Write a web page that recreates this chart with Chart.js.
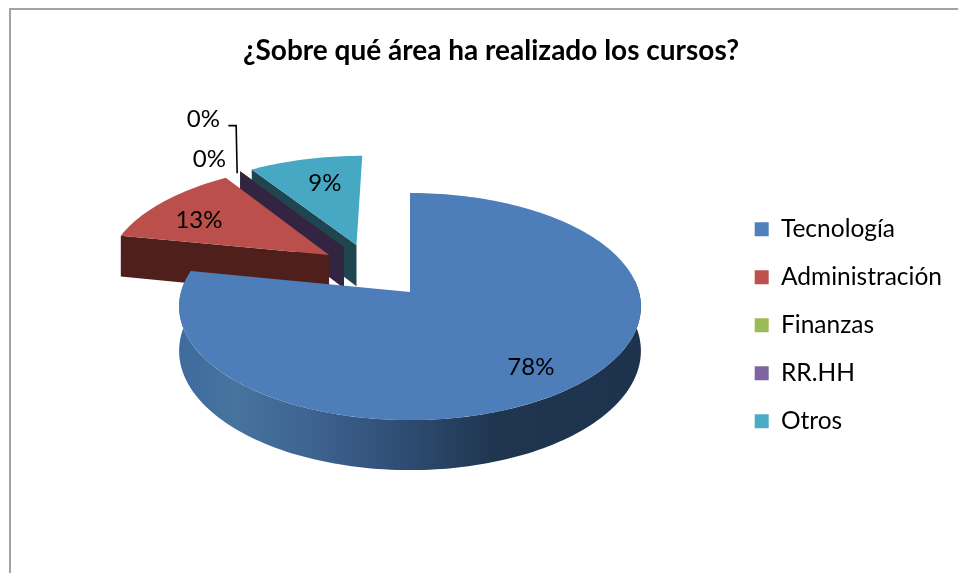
<!DOCTYPE html>
<html>
<head>
<meta charset="utf-8">
<title>Cursos</title>
<script src="https://cdn.jsdelivr.net/npm/chart.js@4"></script>
<style>
  html, body { margin: 0; padding: 0; background: #fff; }
  #wrap { position: relative; width: 958px; height: 573px; overflow: hidden; }
  #marco { position: absolute; left: 9px; top: 8px; right: -4px; bottom: -4px; border: 2px solid #a3a3a3; }
  #grafico { position: absolute; left: 0; top: 0; }
</style>
</head>
<body>
<div id="wrap">
  <div id="marco"></div>
  <canvas id="grafico" width="958" height="573"></canvas>
</div>
<script>
const titulo = '¿Sobre qué área ha realizado los cursos?';
const categorias = ['Tecnología', 'Administración', 'Finanzas', 'RR.HH', 'Otros'];
const valores = [78.1, 12.5, 0, 0, 9.4];
const etiquetas = ['78%', '13%', '0%', '0%', '9%'];

const colores = ['#4f81bd', '#c0504d', '#9bbb59', '#8064a2', '#4bacc6'];
const caras = ['#4d7eb9', '#bb4f4c', '#9bbb59', '#8064a2', '#47a8c4'];
const paredes = ['#2e4d74', '#4f1f1c', '#4c5c2b', '#332541', '#1f4650'];

// Desplazamiento de cada porción sobre el plano de la torta
const explosion = [[0, 0], [-0.369, -0.346], [-0.304, -0.425], [-0.304, -0.425], [-0.247, -0.445]];
const ajusteEtiqueta = [[-2, 2], [1, 7], [-52, -27], [-58, -67], [9, 7]];
const ordenDibujo = [4, 2, 3, 1, 0];

// Perspectiva
const CX = 410, CY = 292, RX = 229, RY = 111.7, K = 0.128, ALTO = 43.6;

function proyectar(u, v) {
  const w = 1 - K * v;
  return { x: CX + RX * u / w, y: CY + RY * v / w, d: ALTO / w };
}

function puntosArco(ini, fin, off) {
  const n = Math.max(1, Math.ceil((fin - ini) * 40));
  const pts = [];
  for (let i = 0; i <= n; i++) {
    const a = ini + (fin - ini) * i / n;
    pts.push(proyectar(Math.cos(a) + off[0], Math.sin(a) + off[1]));
  }
  return pts;
}

function pared(ctx, pts, fill) {
  ctx.beginPath();
  pts.forEach((p, i) => i ? ctx.lineTo(p.x, p.y) : ctx.moveTo(p.x, p.y));
  for (let i = pts.length - 1; i >= 0; i--) ctx.lineTo(pts[i].x, pts[i].y + pts[i].d);
  ctx.closePath();
  ctx.fillStyle = fill;
  ctx.fill();
}

const torta3d = {
  id: 'torta3d',
  beforeDatasetsDraw(chart) {
    const ctx = chart.ctx;
    const arcos = chart.getDatasetMeta(0).data;
    ctx.save();
    ordenDibujo.forEach(i => {
      const { startAngle, endAngle } = arcos[i];
      const off = explosion[i];
      const tip = proyectar(off[0], off[1]);
      const arco = puntosArco(startAngle, endAngle, off);

      let colorPared = paredes[i];
      if (i === 0) {
        colorPared = ctx.createLinearGradient(180, 0, 642, 0);
        colorPared.addColorStop(0, '#3f6b9e');
        colorPared.addColorStop(0.12, '#47739f');
        colorPared.addColorStop(0.27, '#3f6592');
        colorPared.addColorStop(0.48, '#2e4d74');
        colorPared.addColorStop(0.68, '#20354f');
        colorPared.addColorStop(1, '#1d334d');
      }
      // solo las paredes que miran al frente
      pared(ctx, [tip, arco[0]], paredes[i]);
      const desde = Math.max(startAngle, -0.1);
      const hasta = Math.min(endAngle, Math.PI + 0.1);
      if (hasta > desde) pared(ctx, puntosArco(desde, hasta, off), colorPared);

      ctx.beginPath();
      ctx.moveTo(tip.x, tip.y);
      arco.forEach(p => ctx.lineTo(p.x, p.y));
      ctx.closePath();
      ctx.fillStyle = caras[i];
      ctx.fill();
    });

    // Etiquetas de porcentaje
    ctx.font = '24px Lato';
    ctx.fillStyle = '#000';
    ctx.textAlign = 'center';
    ctx.textBaseline = 'middle';
    const posiciones = arcos.map((arc, i) => {
      const mid = (arc.startAngle + arc.endAngle) / 2;
      const p = proyectar(0.78 * Math.cos(mid) + explosion[i][0], 0.78 * Math.sin(mid) + explosion[i][1]);
      return { x: p.x + ajusteEtiqueta[i][0], y: p.y + ajusteEtiqueta[i][1] };
    });
    etiquetas.forEach((t, i) => ctx.fillText(t, posiciones[i].x, posiciones[i].y));

    // Línea guía de la etiqueta de RR.HH
    const guia = proyectar(Math.cos(arcos[3].startAngle) + explosion[3][0], Math.sin(arcos[3].startAngle) + explosion[3][1]);
    ctx.strokeStyle = '#000';
    ctx.lineWidth = 1.6;
    ctx.beginPath();
    ctx.moveTo(posiciones[3].x + 25, posiciones[3].y + 6);
    ctx.lineTo(guia.x - 4, posiciones[3].y + 6);
    ctx.lineTo(guia.x - 3, guia.y + 2);
    ctx.stroke();
    ctx.restore();
    return false;
  }
};

new Chart(document.getElementById('grafico'), {
  type: 'pie',
  data: {
    labels: categorias,
    datasets: [{ data: valores, backgroundColor: colores, borderWidth: 0 }]
  },
  options: {
    responsive: false,
    animation: false,
    events: [],
    layout: { padding: { left: 30, right: 6, top: 34, bottom: 0 } },
    plugins: {
      tooltip: { enabled: false },
      title: {
        display: true,
        text: titulo,
        color: '#000',
        font: { family: 'Lato', size: 28, weight: 'bold' },
        padding: { top: 0, bottom: 10 }
      },
      legend: {
        position: 'right',
        fullSize: false,
        labels: {
          color: '#000',
          font: { family: 'Lato', size: 24.5 },
          boxWidth: 14,
          boxHeight: 14,
          padding: 23.5
        }
      }
    }
  },
  plugins: [torta3d]
});
</script>
</body>
</html>
